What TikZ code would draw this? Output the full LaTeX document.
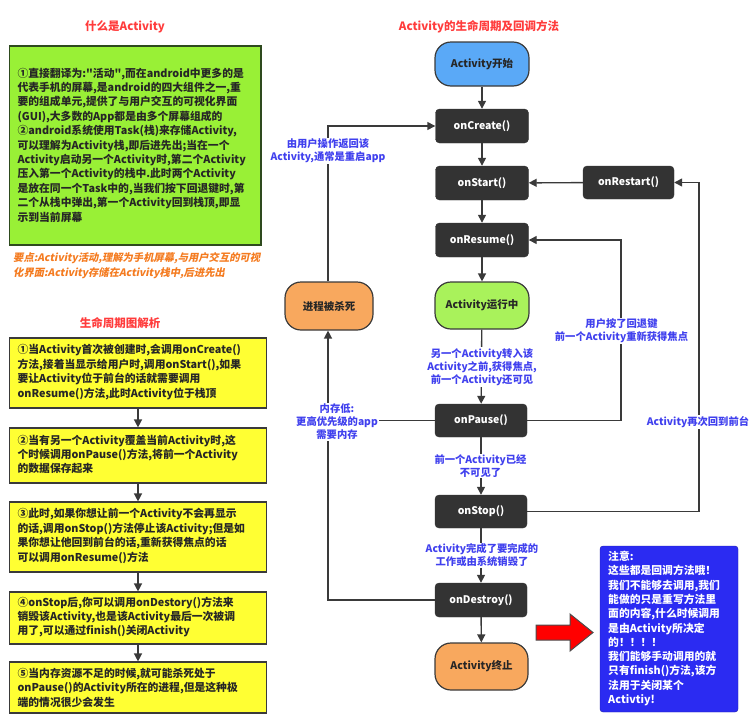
\documentclass[tikz,border=0pt]{standalone}
\usepackage{fontspec}
\setmainfont{Noto Sans CJK SC}
\newfontfamily\slantcjk{Noto Sans CJK SC}[FakeSlant=0.2]
\newfontfamily\plaincjk{Noto Sans CJK SC}
\newcommand{\sq}{{\plaincjk\bfseries "}}
\usetikzlibrary{arrows.meta}
\definecolor{titlered}{HTML}{FF3C3C}
\definecolor{lblue}{HTML}{4040EE}
\definecolor{ornge}{HTML}{F47B20}
\definecolor{darkbox}{HTML}{333333}
\definecolor{edgec}{HTML}{3A3A3A}
\definecolor{gbox}{HTML}{99F036}
\definecolor{gboxedge}{HTML}{2E4A1E}
\definecolor{ybox}{HTML}{FFFF33}
\definecolor{startblue}{HTML}{5AA9F7}
\definecolor{rungreen}{HTML}{A9F25B}
\definecolor{orangefill}{HTML}{F8A85E}
\definecolor{noteblue}{HTML}{2B2BF2}
\begin{document}
\begin{tikzpicture}[x=1pt,y=-1pt,
  title/.style={text=titlered, font=\bfseries\fontsize{11.5}{13}\selectfont, inner sep=0pt},
  dark/.style={draw=darkbox, fill=darkbox, rounded corners=4pt, text=white,
    font=\bfseries\fontsize{10.5}{12}\selectfont, minimum width=93pt, minimum height=34pt, inner sep=0pt},
  stad/.style={draw=edgec, line width=1.2pt, rounded corners=16pt, text=black!85,
    font=\bfseries\fontsize{10.5}{12}\selectfont, minimum width=94pt, minimum height=46pt, inner sep=0pt},
  ybx/.style={draw=edgec, line width=1.2pt, fill=ybox, minimum width=257pt, inner sep=0pt},
  btext/.style={anchor=west, align=left, inner sep=0pt, text=black!85,
    font=\bfseries\fontsize{10.8}{14.4}\selectfont},
  lbl/.style={text=lblue, align=center, fill=white, inner sep=1pt,
    font=\bfseries\fontsize{10.3}{13}\selectfont},
  conn/.style={draw=edgec, line width=1.4pt, -{Triangle[length=8pt,width=8pt]}},
  plain/.style={draw=edgec, line width=1.4pt}
]
\useasboundingbox (0,0) rectangle (749,723);

% ---------- left column ----------
\node[title] (t1) at (125,27) {什么是Activity};
\node[draw=gboxedge, line width=1.3pt, fill=gbox, minimum width=251.5pt, minimum height=199pt, inner sep=0pt] (green) at (135.25,145.5) {};
\node[btext] (greentext) at ([xshift=8.5pt,yshift=0.5pt]green.west) {①直接翻译为:\sq 活动\sq,而在android中更多的是\\
代表手机的屏幕,是android的四大组件之一,重\\
要的组成单元,提供了与用户交互的可视化界面\\
(GUI),大多数的App都是由多个屏幕组成的\\
②android系统使用Task(栈)来存储Activity,\\
可以理解为Activity栈,即后进先出;当在一个\\
Activity启动另一个Activity时,第二个Activity\\
压入第一个Activity的栈中.此时两个Activity\\
是放在同一个Task中的,当我们按下回退键时,第\\
二个从栈中弹出,第一个Activity回到栈顶,即显\\
示到当前屏幕};
\node[anchor=west, align=left, inner sep=0pt, text=ornge, font=\slantcjk\bfseries\fontsize{10.3}{15}\selectfont] (keypoint) at (13,265.5) {要点:Activity活动,理解为手机屏幕,与用户交互的可视\\化界面:Activity存储在Activity栈中,后进先出};

\node[title] (t2) at (120,323) {生命周期图解析};
\node[ybx, minimum height=70pt] (y1) at (138,373) {};
\node[ybx, minimum height=55pt] (y2) at (138,455.5) {};
\node[ybx, minimum height=70pt] (y3) at (138,537) {};
\node[ybx, minimum height=52pt] (y4) at (138,618) {};
\node[ybx, minimum height=51pt] (y5) at (138,687.5) {};
\node[btext] (yt1) at ([xshift=8.5pt,yshift=1pt]y1.west) {①当Activity首次被创建时,会调用onCreate()\\
方法,接着当显示给用户时,调用onStart(),如果\\
要让Activity位于前台的话就需要调用\\
onResume()方法,此时Activity位于栈顶};
\node[btext] (yt2) at ([xshift=8.5pt,yshift=1pt]y2.west) {②当有另一个Activity覆盖当前Activity时,这\\
个时候调用onPause()方法,将前一个Activity\\
的数据保存起来};
\node[btext] (yt3) at ([xshift=8.5pt,yshift=1pt]y3.west) {③此时,如果你想让前一个Activity不会再显示\\
的话,调用onStop()方法停止该Activity;但是如\\
果你想让他回到前台的话,重新获得焦点的话\\
可以调用onResume()方法};
\node[btext] (yt4) at ([xshift=8.5pt,yshift=1pt]y4.west) {④onStop后,你可以调用onDestory()方法来\\
销毁该Activity,也是该Activity最后一次被调\\
用了,可以通过finish()关闭Activity};
\node[btext] (yt5) at ([xshift=8.5pt,yshift=0pt]y5.west) {⑤当内存资源不足的时候,就可能杀死处于\\
onPause()的Activity所在的进程,但是这种极\\
端的情况很少会发生};
\draw[conn] (y1) -- (y2);
\draw[conn] (y2) -- (y3);
\draw[conn] (y3) -- (y4);
\draw[conn] (y4) -- (y5);

% ---------- lifecycle ----------
\node[title] (t3) at (479,27) {Activity的生命周期及回调方法};
\node[stad, fill=startblue, minimum height=44pt] (start) at (482,64) {Activity开始};
\node[dark] (create) at (482,126) {onCreate()};
\node[dark] (startc) at (482,183) {onStart()};
\node[dark] (resume) at (482,240) {onResume()};
\node[stad, fill=rungreen, minimum height=47pt] (running) at (482,305.5) {Activity运行中};
\node[dark, minimum width=92pt, minimum height=33pt] (pause) at (481,420.5) {onPause()};
\node[dark, minimum width=92pt, minimum height=33pt] (stop) at (481,511.5) {onStop()};
\node[dark, minimum width=92pt] (destroy) at (481,600) {onDestroy()};
\node[stad, fill=orangefill, minimum width=93pt, minimum height=47pt] (finish) at (481.5,666.5) {Activity终止};
\node[dark, minimum width=91pt, minimum height=33pt] (restart) at (628.5,182.5) {onRestart()};
\node[stad, fill=orangefill, minimum width=88pt, minimum height=48pt] (killed) at (329,306) {进程被杀死};

\coordinate (kx) at (328,0);
\coordinate (rx) at (621,0);
\coordinate (sx) at (699,0);

\draw[conn] (start) -- (create);
\draw[conn] (create) -- (startc);
\draw[conn] (startc) -- (resume);
\draw[conn] (resume) -- (running);
\draw[conn] (running) -- (pause);
\draw[conn] (pause) -- (stop);
\draw[conn] (stop) -- (destroy);
\draw[conn] (destroy) -- (finish);
\draw[conn] (restart) -- (startc);
\draw[conn] (stop.east) -- (stop.east -| sx) -- (restart.east -| sx) -- (restart.east);
\draw[conn] (pause.east) -- (pause.east -| rx) -- (resume.east -| rx) -- (resume.east);
\draw[conn] (destroy.west) -- (destroy.west -| kx) -- (killed.south -| kx);
\draw[plain] (pause.west) -- (pause.west -| kx);
\draw[conn] (killed.north -| kx) -- (create.west -| kx) -- (create.west);

\node[lbl] (l1) at (328,151) {由用户操作返回该\\Activity,通常是重启app};
\node[lbl] (l2) at (482,367) {另一个Activity转入该\\Activity之前,获得焦点,\\前一个Activity还可见};
\node[lbl] (l3) at (480.5,466) {前一个Activity已经\\不可见了};
\node[lbl] (l4) at (482,555.5) {Activity完成了要完成的\\工作或由系统销毁了};
\node[lbl] (l5) at (337,422) {内存低:\\更高优先级的app\\需要内存};
\node[lbl] (l6) at (621.5,331) {用户按了回退键\\前一个Activity重新获得焦点};
\node[lbl] (l7) at (698,422) {Activity再次回到前台};

% ---------- note ----------
\draw[draw=black!70, fill=red, line width=1pt] (536,625) -- (570,625) -- (570,614) -- (593,632.5) -- (570,651) -- (570,640) -- (536,640) -- cycle;
\node[draw=noteblue!70!black, fill=noteblue, rounded corners=3pt, minimum width=138pt, minimum height=166pt, inner sep=0pt] (note) at (669,629) {};
\node[anchor=north west, align=left, inner sep=0pt, text=white, font=\bfseries\fontsize{10.8}{14.3}\selectfont] (notetext) at (608,551) {注意:\\
这些都是回调方法哦！\\
我们不能够去调用,我们\\
能做的只是重写方法里\\
面的内容,什么时候调用\\
是由Activity所决定\\
的！！！！\\
我们能够手动调用的就\\
只有finish()方法,该方\\
法用于关闭某个\\
Activtiy!};
\end{tikzpicture}
\end{document}
